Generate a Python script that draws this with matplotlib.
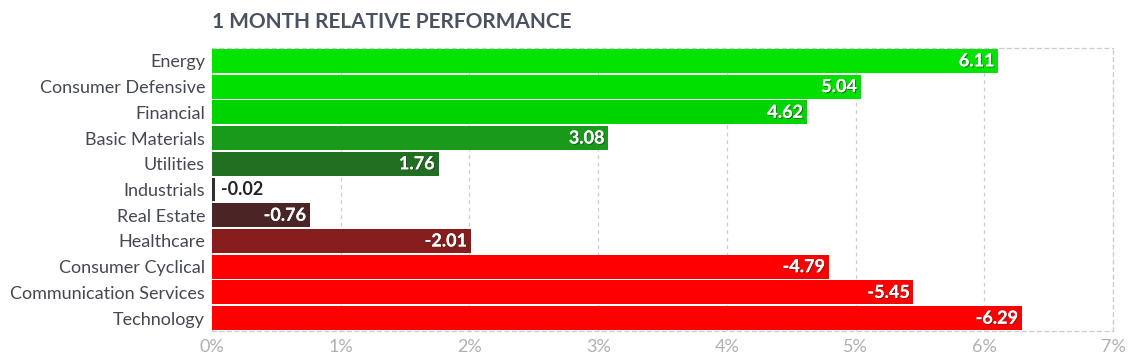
import matplotlib.pyplot as plt
import matplotlib.patheffects as pe

sectors = ['Energy', 'Consumer Defensive', 'Financial', 'Basic Materials',
           'Utilities', 'Industrials', 'Real Estate', 'Healthcare',
           'Consumer Cyclical', 'Communication Services', 'Technology']
values = [6.11, 5.04, 4.62, 3.08, 1.76, -0.02, -0.76, -2.01, -4.79, -5.45, -6.29]
colors = ['#00e400', '#00e000', '#00d400', '#1a9a1a', '#216f21', '#303030',
          '#4b2526', '#861c1c', '#ff0000', '#ff0000', '#ff0000']
ticks = [0, 1, 2, 3, 4, 5, 6, 7]

plt.rcParams['font.family'] = ['Lato', 'DejaVu Sans']

fig = plt.figure(figsize=(11.32, 3.62), dpi=100)
ax = fig.add_axes([0.1873, 0.0856, 0.7959, 0.7818])

ypos = list(range(len(sectors)))
widths = [abs(v) for v in values]
ax.barh(ypos, widths, height=0.93, color=colors, zorder=2)
ax.set_ylim(len(sectors) - 0.5, -0.5)
ax.set_xlim(0, 7)

shadow = [pe.withSimplePatchShadow(offset=(0.8, -0.8), shadow_rgbFace='#333333', alpha=0.6), pe.Normal()]
for y, v, w in zip(ypos, values, widths):
    if w > 0.5:
        ax.text(w - 0.03, y, f'{v:.2f}', ha='right', va='center', color='white',
                fontsize=13, fontweight='bold', path_effects=shadow, zorder=3)
    else:
        ax.text(w + 0.05, y, f'{v:.2f}', ha='left', va='center', color='#222222',
                fontsize=13, fontweight='bold', zorder=3)

ax.set_yticks(ypos)
ax.set_yticklabels(sectors, fontsize=13, color='#444854')
ax.set_xticks(ticks)
ax.set_xticklabels([f'{t}%' for t in ticks], fontsize=13, color='#b0b0b0')
ax.tick_params(length=0, pad=5)
ax.tick_params(axis='x', pad=6)

ax.grid(axis='x', color='#cccccc', linestyle=(0, (3, 3)), linewidth=0.9, zorder=0)
for side in ['top', 'bottom', 'right']:
    ax.spines[side].set_color('#cccccc')
    ax.spines[side].set_linestyle((0, (3, 3)))
    ax.spines[side].set_linewidth(0.9)
ax.spines['left'].set_visible(False)

fig.text(0.1873, 0.912, '1 MONTH RELATIVE PERFORMANCE', fontsize=15,
         fontweight='bold', color='#4a5261', ha='left', va='bottom')

fig.savefig('out.png', dpi=100)
